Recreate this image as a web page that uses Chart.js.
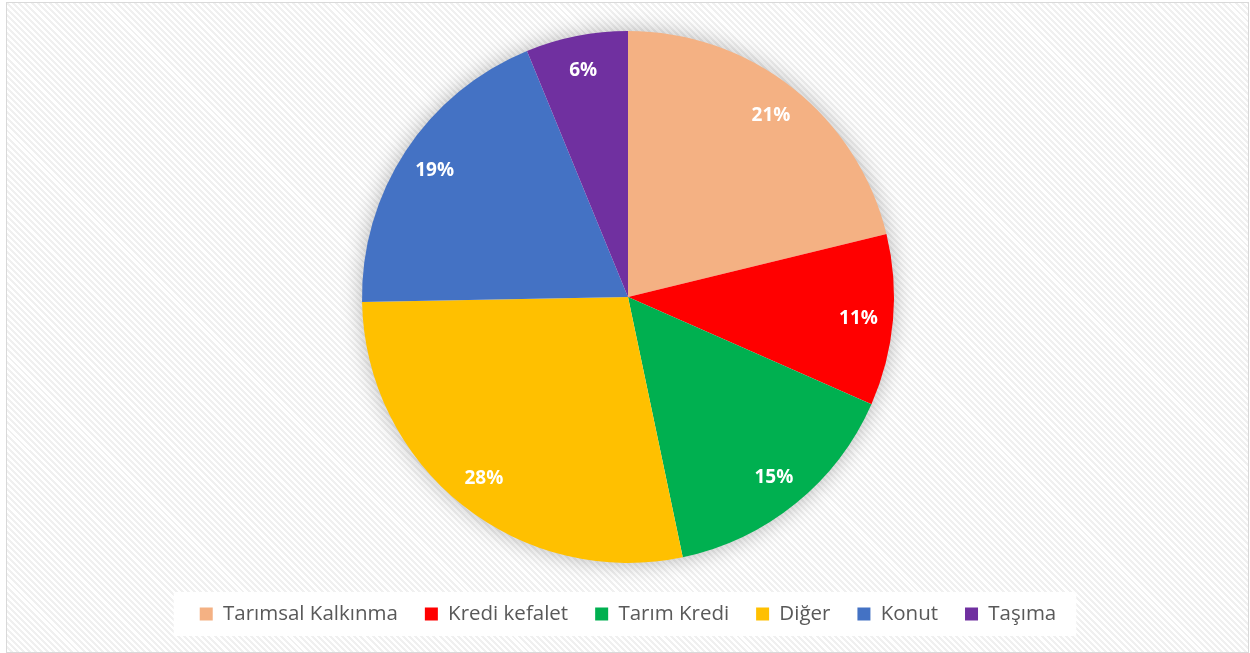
<!DOCTYPE html>
<html>
<head>
<meta charset="utf-8">
<script src="https://cdn.jsdelivr.net/npm/chart.js@4.4.0/dist/chart.umd.min.js"></script>
<style>
  html, body { margin: 0; padding: 0; width: 1250px; height: 653px; overflow: hidden; background: #ffffff; }
  #frame {
    position: absolute; left: 6px; top: 2px; width: 1241px; height: 649px;
    border: 1px solid #d9d9d9;
    background: repeating-linear-gradient(45deg, #ffffff 0px, #ffffff 2.2px, #f0f0f0 2.2px, #f0f0f0 4.3px);
  }
  #wrap { position: absolute; left: 0; top: 0; width: 1250px; height: 653px; }
</style>
</head>
<body>
<div id="frame"></div>
<div id="wrap"><canvas id="c" width="1250" height="653"></canvas></div>
<script>
const categories = ["Tarımsal Kalkınma", "Kredi kefalet", "Tarım Kredi", "Diğer", "Konut", "Taşıma"];
// slice sizes (percent of the pie)
const shares = [21.2, 10.4, 15.1, 28.0, 19.1, 6.2];
// data labels as printed on the slices
const shareLabels = ["21%", "11%", "15%", "28%", "19%", "6%"];
const sliceColors = ["#F4B183", "#FF0000", "#00B050", "#FFC000", "#4472C4", "#7030A0"];

const pieShadow = {
  id: 'pieShadow',
  beforeDatasetsDraw(chart) {
    const arc = chart.getDatasetMeta(0).data[0];
    if (!arc) return;
    const ctx = chart.ctx;
    ctx.save();
    ctx.shadowColor = 'rgba(0,0,0,0.30)';
    ctx.shadowBlur = 22;
    ctx.shadowOffsetX = 0;
    ctx.shadowOffsetY = 0;
    ctx.fillStyle = '#ffffff';
    ctx.beginPath();
    ctx.arc(arc.x, arc.y, arc.outerRadius - 1, 0, Math.PI * 2);
    ctx.fill();
    ctx.restore();
  }
};

const sliceLabels = {
  id: 'sliceLabels',
  afterDatasetsDraw(chart) {
    const ctx = chart.ctx;
    const meta = chart.getDatasetMeta(0);
    ctx.save();
    ctx.fillStyle = '#ffffff';
    ctx.font = 'bold 19px "Open Sans", "DejaVu Sans", sans-serif';
    ctx.textAlign = 'center';
    ctx.textBaseline = 'middle';
    meta.data.forEach((arc, i) => {
      const mid = (arc.startAngle + arc.endAngle) / 2;
      const r = arc.outerRadius * 0.87;
      ctx.fillText(shareLabels[i], arc.x + Math.cos(mid) * r, arc.y + Math.sin(mid) * r + 1);
    });
    ctx.restore();
  }
};

const legendBg = {
  id: 'legendBg',
  beforeDraw(chart) {
    const lg = chart.legend;
    if (!lg || !lg.legendHitBoxes || !lg.legendHitBoxes.length) return;
    const hb = lg.legendHitBoxes;
    const first = hb[0], last = hb[hb.length - 1];
    const cy = first.top + first.height / 2;
    const ctx = chart.ctx;
    ctx.save();
    ctx.fillStyle = '#ffffff';
    ctx.fillRect(first.left - 26, cy - 22, (last.left + last.width + 20) - (first.left - 26), 44);
    ctx.restore();
  }
};

new Chart(document.getElementById('c'), {
  type: 'pie',
  data: {
    labels: categories,
    datasets: [{
      data: shares,
      backgroundColor: sliceColors,
      borderWidth: 0,
      radius: 266
    }]
  },
  options: {
    responsive: false,
    animation: false,
    events: [],
    layout: { padding: { top: 17.25, bottom: 18.75, left: 6, right: 0 } },
    plugins: {
      tooltip: { enabled: false },
      legend: {
        position: 'bottom',
        labels: {
          boxWidth: 13,
          boxHeight: 13,
          padding: 27,
          color: '#595959',
          font: { family: '"Open Sans", "DejaVu Sans", sans-serif', size: 20.5 }
        }
      }
    }
  },
  plugins: [legendBg, pieShadow, sliceLabels]
});
</script>
</body>
</html>
